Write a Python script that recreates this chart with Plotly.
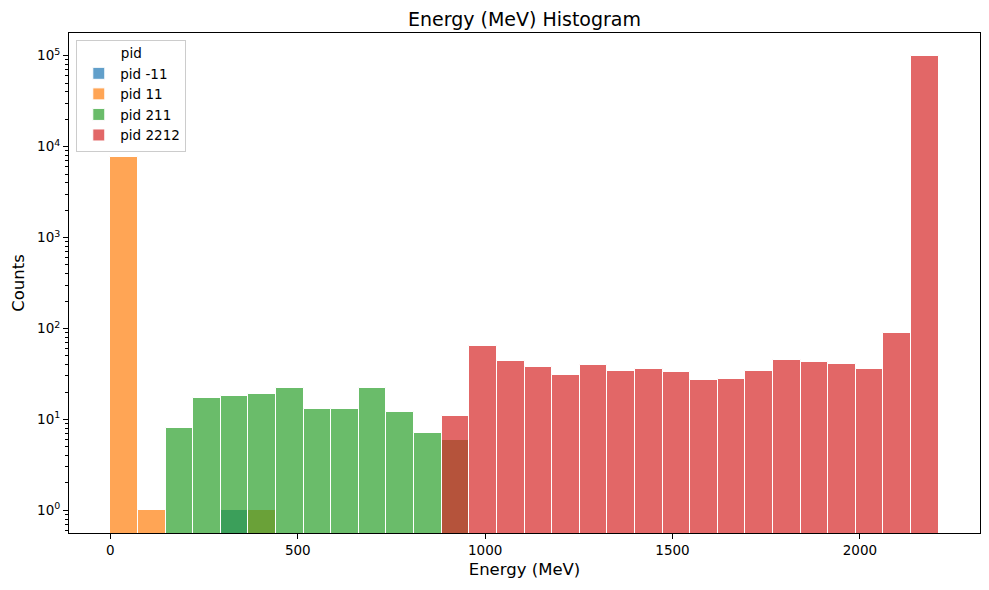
import numpy as np
import plotly.graph_objects as go

# histogram binning (30 bins over the energy range)
E_MIN, E_MAX, N_BINS = 0.0, 2210.0, 30

pids = ['pid -11', 'pid 11', 'pid 211', 'pid 2212']

# counts per bin
counts_m11 = [0, 0, 0, 0, 1, 0, 0, 0, 0, 0,
              0, 0, 0, 0, 0, 0, 0, 0, 0, 0,
              0, 0, 0, 0, 0, 0, 0, 0, 0, 0]
counts_11 = [7700, 1, 0, 0, 0, 1, 0, 0, 0, 0,
             0, 0, 0, 0, 0, 0, 0, 0, 0, 0,
             0, 0, 0, 0, 0, 0, 0, 0, 0, 0]
counts_211 = [0, 0, 8, 17, 18, 19, 22, 13, 13, 22,
              12, 7, 6, 0, 0, 0, 0, 0, 0, 0,
              0, 0, 0, 0, 0, 0, 0, 0, 0, 0]
counts_2212 = [0, 0, 0, 0, 0, 0, 0, 0, 0, 0,
               0, 0, 11, 64, 44, 38, 31, 40, 34, 36,
               33, 27, 28, 34, 45, 43, 41, 36, 89, 100000]

colors = ['#1f77b4', '#ff7f0e', '#2ca02c', '#d62728']

edges = np.linspace(E_MIN, E_MAX, N_BINS + 1)
centers = (edges[:-1] + edges[1:]) / 2
width = edges[1] - edges[0]

fig = go.Figure()
for name, cnt, col in zip(pids, [counts_m11, counts_11, counts_211, counts_2212], colors):
    cnt = np.array(cnt)
    keep = cnt > 0
    fig.add_trace(go.Bar(x=centers[keep], y=cnt[keep], width=width,
                         name=name, legendgroup=name, opacity=0.7,
                         marker=dict(color=col, line=dict(color='white', width=1))))

dec = list(range(0, 6))
minor_vals = [m * 10 ** k for k in range(-1, 6) for m in range(2, 10)]

axis_common = dict(showline=True, linecolor='black', linewidth=1, mirror=True,
                   ticks='outside', ticklen=5, tickcolor='black',
                   showgrid=False, zeroline=False, automargin=False,
                   tickfont=dict(size=13.5, color='black'),
                   title_font=dict(size=16.5, color='black'))

fig.update_layout(
    width=989, height=590,
    barmode='overlay', bargap=0,
    plot_bgcolor='white', paper_bgcolor='white',
    font=dict(family='DejaVu Sans', color='black'),
    margin=dict(l=69, r=9, t=33, b=57, pad=0),
    title=dict(text='Energy (MeV) Histogram', x=0.5303, xanchor='center',
               y=0.968, yanchor='middle', font=dict(size=19, color='black')),
    legend=dict(x=0.008, y=0.987, xanchor='left', yanchor='top',
                bgcolor='rgba(255,255,255,0.8)', bordercolor='#cccccc', borderwidth=1,
                font=dict(size=13.5), title=dict(text='pid', side='top center', font=dict(size=13.5)),
                itemwidth=33, tracegroupgap=0),
)
fig.update_xaxes(range=[-110.5, 2320.5], tickvals=[0, 500, 1000, 1500, 2000],
                 title_text='Energy (MeV)', title_standoff=6, **axis_common)
fig.update_yaxes(type='log', range=[-0.25, 5.25],
                 tickvals=[10 ** k for k in dec],
                 ticktext=['10<sup>%d</sup>' % k for k in dec],
                 minor=dict(tickvals=minor_vals, ticks='outside', ticklen=3, tickcolor='black'),
                 title_text='Counts', title_standoff=8, **axis_common)

fig.write_html("out.html", config={'displayModeBar': False},
               post_script="document.body.style.margin='0';")
